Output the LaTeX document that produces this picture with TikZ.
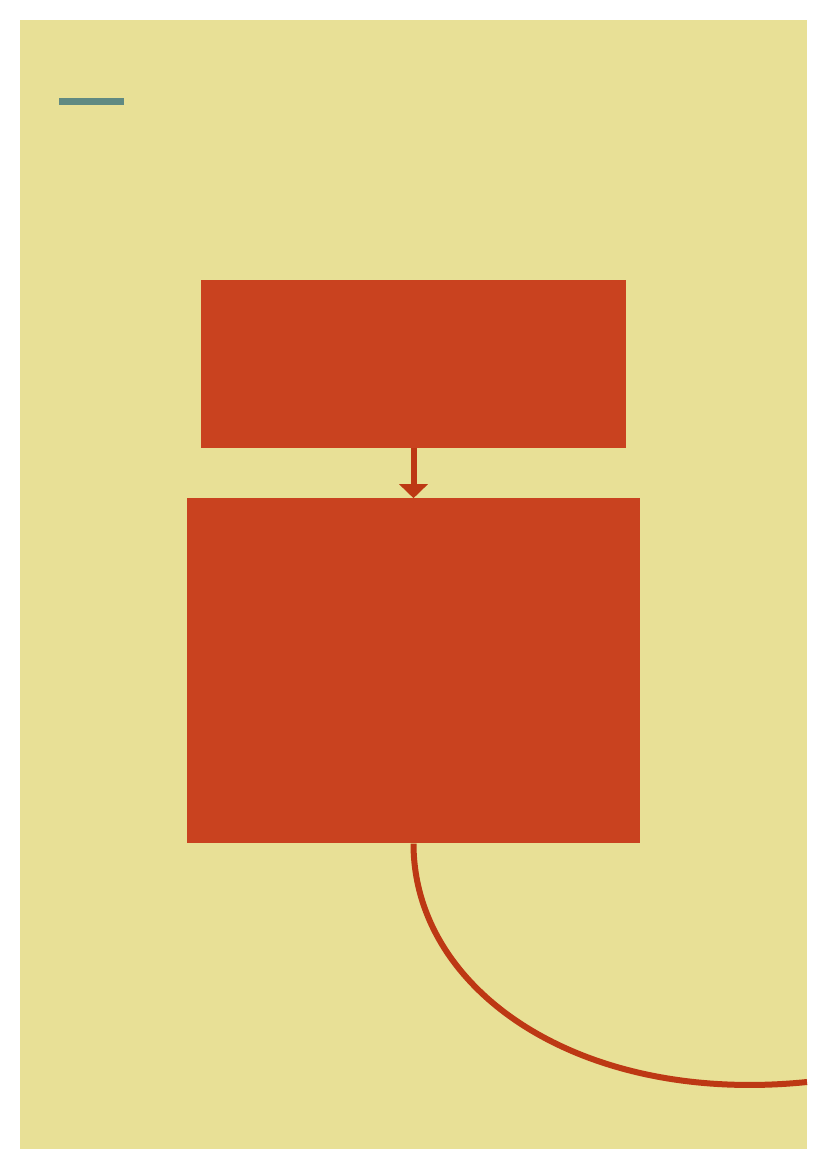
\documentclass[tikz,border=0pt]{standalone}
\usepackage{tikz}
\usetikzlibrary{arrows.meta, positioning}
\definecolor{sand}{RGB}{232,224,150}
\definecolor{rust}{RGB}{201,66,31}
\definecolor{darkrust}{RGB}{189,56,20}
\definecolor{slate}{RGB}{96,138,130}
\tikzstyle{block} = [rectangle, inner sep=0pt, draw=none, fill=rust]
\tikzstyle{arrow} = [darkrust, line width=6pt, -{Triangle[width=28pt,length=14pt]}]
\tikzstyle{curve} = [darkrust, line width=6pt]
\tikzstyle{bar} = [slate, line width=7pt]

\begin{document}
\begin{tikzpicture}[x=1pt, y=-1pt, node distance = 50pt]
    \fill[white] (0,0) rectangle (827,1169);
    \useasboundingbox (0,0) rectangle (827,1169);
    \fill[sand] (20,20) rectangle (807,1149);
    \draw [bar] (59,101.5) -- (124,101.5);

    \node (plan) [block, minimum width=425pt, minimum height=168pt] at (413.5,364) {};
    \node (build) [block, below=of plan, minimum width=453pt, minimum height=345pt] {};
    \coordinate (exit) at (807,1082);

    \draw [arrow] (plan) -- (build);
    \draw [curve] (build.south) .. controls +(0,147) and +(-227,23) .. (exit);
\end{tikzpicture}
\end{document}
